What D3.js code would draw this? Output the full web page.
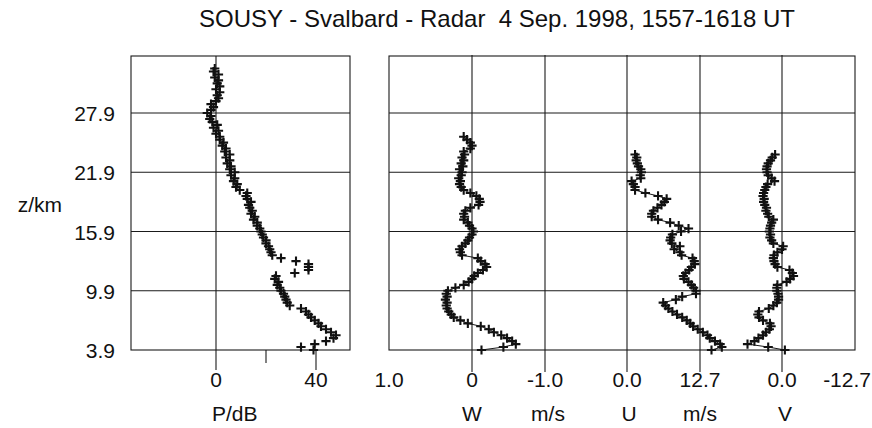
<!DOCTYPE html>
<html>
<head>
<meta charset="utf-8">
<script src="https://cdn.jsdelivr.net/npm/d3@7"></script>
<style>
  html, body { margin: 0; padding: 0; background: #fff; }
  svg { display: block; }
  text { font-family: "Liberation Sans", Arial, Helvetica, sans-serif; fill: #111; }
</style>
</head>
<body>
<svg id="chart" width="872" height="428"></svg>
<script>
// ---------------- DATA ----------------
const title = "SOUSY - Svalbard - Radar\u00A0\u00A04 Sep. 1998, 1557-1618 UT";

// altitude gates (km)
const altitudes = [
  3.9,4.2,4.5,4.8,5.1,5.4,5.7,6.0,6.3,6.6,
  6.9,7.2,7.5,7.8,8.1,8.4,8.7,9.0,9.3,9.6,
  9.9,10.2,10.5,10.8,11.1,11.4,11.7,12.0,12.3,12.6,
  12.9,13.2,13.5,13.8,14.1,14.4,14.7,15.0,15.3,15.6,
  15.9,16.2,16.5,16.8,17.1,17.4,17.7,18.0,18.3,18.6,
  18.9,19.2,19.5,19.8,20.1,20.4,20.7,21.0,21.3,21.6,
  21.9,22.2,22.5,22.8,23.1,23.4,23.7,24.0,24.3,24.6,
  24.9,25.2,25.5,25.8,26.1,26.4,26.7,27.0,27.3,27.6,
  27.9,28.2,28.5,28.8,29.1,29.4,29.7,30.0,30.3,30.6,
  30.9,31.2,31.5,31.8,32.1,32.4
];

// echo power P (dB)
const pValues = [
  39,34,39.5,44,47,48,46,44,42,41,
  39.5,38,37,36,34,29.5,28.5,28,27.5,27,
  26,25.5,24.5,25,23.5,24,31.5,37,37,37,
  32,26,22.5,22,21.5,21,20,20,19,18.5,
  18,17.5,16.5,16.5,15,15.5,14,14.5,13.5,13,
  14,12.5,12,12.5,9.5,8,8.5,7,7.5,6,
  7.5,5.5,6,4.5,5.5,4,5.5,3.5,4,2.5,
  3,1.5,1.5,0,1,-1,0.5,-1.5,-2.5,-2,
  -3.5,-2,-1,-2,0,1,0.5,1.5,0,1.5,
  0.5,1,-0.5,1,-1,-0.5
];

// vertical wind W (m/s)
const wValues = [
  -0.13,-0.43,-0.6,-0.55,-0.48,-0.4,-0.3,-0.23,-0.12,0.05,
  0.14,0.22,0.25,0.28,0.3,0.31,0.3,0.32,0.3,0.31,
  0.29,0.2,0.1,0.04,0.0,-0.03,-0.08,-0.15,-0.2,-0.18,
  -0.12,-0.08,0.12,0.14,0.15,0.12,0.08,0.05,0.03,0.0,
  -0.02,0.0,0.03,0.05,0.1,0.09,0.1,0.08,0.02,-0.09,
  -0.11,-0.1,-0.06,0.02,0.1,0.13,0.15,0.14,0.16,0.13,
  0.12,0.15,0.11,0.13,0.1,0.12,0.09,0.1,0.02,0.0,
  0.02,0.06,0.1
];

// zonal wind U (m/s)
const uValues = [
  14.7,16.5,16.2,15.3,14.4,14.0,13.2,12.3,11.5,11.0,
  10.4,9.6,8.7,7.9,7.2,6.7,6.3,8.5,9.6,12.0,
  12.0,11.6,11.2,10.7,9.9,9.8,10.2,10.8,11.2,11.8,
  11.7,11.4,9.5,9.2,8.2,9.2,7.8,7.5,7.6,7.9,
  9.4,10.7,9.0,7.5,5.4,4.3,4.3,4.6,5.3,6.0,
  6.5,6.9,5.4,3.2,1.4,1.4,1.1,0.8,2.4,2.3,
  2.5,2.4,2.0,1.8,1.6,1.7,1.4
];

// meridional wind V (m/s)
const vValues = [
  -0.5,2.4,6.0,4.8,4.1,3.3,2.8,2.2,1.9,2.1,
  3.3,4.0,4.2,4.0,2.3,1.5,0.9,0.6,0.6,0.7,
  0.9,0.9,0.8,-0.8,-1.4,-2.0,-1.8,-1.3,0.8,1.2,
  1.4,1.5,1.4,0.8,0.0,-0.2,1.5,1.8,2.1,2.0,
  2.2,2.1,2.0,1.8,1.5,2.3,2.5,2.8,2.7,3.0,
  3.2,3.1,3.3,3.2,3.0,2.8,2.5,1.3,1.8,2.4,
  2.6,2.7,2.6,2.4,2.0,1.7,1.2
];

// axis ticks
const zTicks = [3.9, 9.9, 15.9, 21.9, 27.9];
const pTicks = [0, 40];
const pMinorTicks = [20];
const wTicks = [1, 0, -1];
const wTickLabels = ["1.0", "0", "-1.0"];
const uTicks = [0, 12.7];
const uTickLabels = ["0.0", "12.7"];
const vTicks = [0, -12.7];
const vTickLabels = ["0.0", "-12.7"];

// ---------------- LAYOUT ----------------
const svg = d3.select("#chart");
const ink = "#1a1a1a";
const panelTop = 56;

const y = d3.scaleLinear().domain([3.9, 27.9]).range([350, 113]);
const xP = d3.scaleLinear().domain([0, 40]).range([216, 316]);
const xW = d3.scaleLinear().domain([1, 0, -1]).range([389, 472, 545]);
const xU = d3.scaleLinear().domain([0, 12.7]).range([627, 700]);
const xV = d3.scaleLinear().domain([0, -12.7]).range([782, 855]);

const left = { x0: 131, x1: 350 };
const right = { x0: 389, x1: 855 };
const bottom = y(3.9);

svg.append("rect").attr("width", 872).attr("height", 428).attr("fill", "#fff");

// title
svg.append("text").attr("x", 497).attr("y", 27).attr("text-anchor", "middle")
  .style("font-size", "24px").text(title);

function frame(p) {
  const g = svg.append("g").attr("stroke", ink).attr("fill", "none").attr("stroke-width", 1.1);
  g.append("rect").attr("x", p.x0).attr("y", panelTop).attr("width", p.x1 - p.x0).attr("height", bottom - panelTop);
  g.selectAll("line.h").data(zTicks.slice(1)).join("line")
    .attr("x1", p.x0).attr("x2", p.x1).attr("y1", d => y(d)).attr("y2", d => y(d));
  return g;
}
const gl = frame(left);
const gr = frame(right);

// left panel vertical 0 line + ticks
gl.append("line").attr("x1", xP(0)).attr("x2", xP(0)).attr("y1", panelTop).attr("y2", bottom + 20);
gl.selectAll("line.pt").data(pTicks.slice(1)).join("line")
  .attr("x1", d => xP(d)).attr("x2", d => xP(d)).attr("y1", bottom).attr("y2", bottom + 20);
gl.selectAll("line.pm").data(pMinorTicks).join("line")
  .attr("x1", d => xP(d)).attr("x2", d => xP(d)).attr("y1", bottom).attr("y2", bottom + 13);

// right panel vertical lines
const rightLines = [xW(0), xW(-1), xU(0), xU(12.7), xV(0)];
gr.selectAll("line.v").data(rightLines).join("line")
  .attr("x1", d => d).attr("x2", d => d).attr("y1", panelTop - 1).attr("y2", bottom + 22);

// y tick labels
svg.selectAll("text.z").data(zTicks).join("text")
  .attr("x", 115).attr("y", d => y(d) + 8).attr("text-anchor", "end")
  .style("font-size", "21px").text(d => d.toFixed(1));
svg.append("text").attr("x", 62).attr("y", 212).attr("text-anchor", "end")
  .style("font-size", "21px").text("z/km");

// x tick labels
const tickY = 387;
function tickLabels(vals, labels, sc) {
  svg.selectAll(null).data(vals).join("text")
    .attr("x", d => sc(d)).attr("y", tickY)
    .attr("text-anchor", d => (sc(d) > 850 ? "end" : "middle"))
    .attr("dx", d => (sc(d) > 850 ? 16 : 0))
    .style("font-size", "21px").text((d, i) => labels ? labels[i] : d);
}
tickLabels(pTicks, null, xP);
tickLabels(wTicks, wTickLabels, xW);
tickLabels(uTicks, uTickLabels, xU);
tickLabels(vTicks, vTickLabels, xV);

// axis titles
const labY = 421;
svg.append("text").attr("x", 212).attr("y", labY).style("font-size", "21px").text("P/dB");
[["W", xW(0)], ["m/s", 548], ["U", xU(0) + 2], ["m/s", xU(12.7)], ["V", xV(0) + 3]].forEach(([t, x]) => {
  svg.append("text").attr("x", x).attr("y", labY).attr("text-anchor", "middle")
    .style("font-size", "21px").text(t);
});

// ---------------- MARKS ----------------
const cross = "M-4.6,0H4.6M0,-4.6V4.6";
function series(vals, sc, withLine) {
  const pts = vals.map((v, i) => ({ z: altitudes[i], v }));
  if (withLine) {
    svg.append("path").datum(pts)
      .attr("fill", "none").attr("stroke", ink).attr("stroke-width", 1)
      .attr("d", d3.line().x(d => sc(d.v)).y(d => y(d.z)));
  }
  svg.append("g").selectAll("path").data(pts).join("path")
    .attr("transform", d => `translate(${sc(d.v)},${y(d.z)})`)
    .attr("d", cross).attr("stroke", "#111").attr("stroke-width", 2.1).attr("fill", "none");
}
series(pValues, xP, false);
series(wValues, xW, true);
series(uValues, xU, true);
series(vValues, xV, true);
</script>
</body>
</html>
